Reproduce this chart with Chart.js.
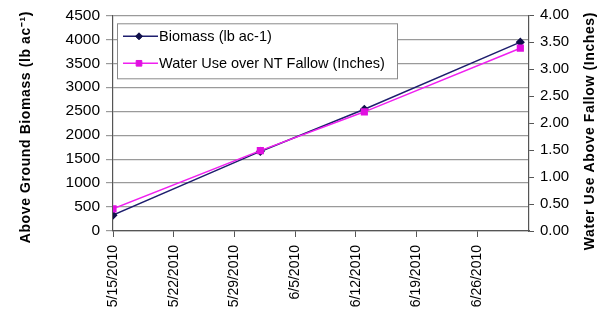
<!DOCTYPE html>
<html>
<head>
<meta charset="utf-8">
<script src="https://cdn.jsdelivr.net/npm/chart.js@4/dist/chart.umd.min.js"></script>
<style>
  html, body { margin: 0; padding: 0; background: #fff; }
  #wrap { width: 602px; height: 323px; }
</style>
</head>
<body>
<div id="wrap"><canvas id="chart" width="602" height="323"></canvas></div>
<script>
// Sampling dates and measurements
const sampleDates = ['2010-05-15', '2010-06-01', '2010-06-13', '2010-07-01'];
const biomass = [330, 1660, 2540, 3940];          // lb ac-1
const waterUse = [0.41, 1.49, 2.21, 3.39];        // inches over NT fallow

const seriesLabels = ['Biomass (lb ac-1)', 'Water Use over NT Fallow (Inches)'];
const leftTitle = 'Above Ground Biomass (lb ac\u207B\u00B9)';
const rightTitle = 'Water Use Above Fallow (Inches)';

// x axis runs in days from the first sample, ticks weekly
const startDate = new Date(2010, 4, 15);
const axisDays = 48;
const dayMs = 86400000;

function toDay(str) {
    const [y, m, d] = str.split('-').map(Number);
    return Math.round((new Date(y, m - 1, d) - startDate) / dayMs);
}

function dayLabel(v) {
    const d = new Date(startDate.getTime() + v * dayMs);
    return `${d.getMonth() + 1}/${d.getDate()}/${d.getFullYear()}`;
}

const FONT = 'Liberation Sans, Arial, sans-serif';
const GRID = '#9a9a9a';
const AXIS = '#555';

function drawVerticalTitle(ctx, text, x, y) {
    ctx.save();
    ctx.font = `bold 14px ${FONT}`;
    ctx.letterSpacing = '0.6px';
    ctx.fillStyle = '#000';
    ctx.textAlign = 'center';
    ctx.textBaseline = 'middle';
    ctx.translate(x, y);
    ctx.rotate(-Math.PI / 2);
    ctx.fillText(text, 0, 0);
    ctx.restore();
}

// Axis titles (both read bottom to top) and the legend box inside the plot
const extrasPlugin = {
    id: 'extras',
    afterDraw(chart) {
        const ctx = chart.ctx;
        const area = chart.chartArea;
        const midY = (area.top + area.bottom) / 2;

        drawVerticalTitle(ctx, leftTitle, 26, midY + 4);
        drawVerticalTitle(ctx, rightTitle, area.right + 61, midY + 8);

        ctx.save();
        const bx = area.left + 4, by = area.top + 8, bw = 280, bh = 55;
        ctx.fillStyle = '#fff';
        ctx.fillRect(bx, by, bw, bh);
        ctx.strokeStyle = '#8a8a8a';
        ctx.lineWidth = 1;
        ctx.strokeRect(bx + 0.5, by + 0.5, bw, bh);

        chart.data.datasets.forEach((ds, i) => {
            const y = by + 13 + i * 27;
            ctx.strokeStyle = ds.borderColor;
            ctx.lineWidth = 1.5;
            ctx.beginPath();
            ctx.moveTo(bx + 6, y);
            ctx.lineTo(bx + 41, y);
            ctx.stroke();
            ctx.fillStyle = ds.pointBackgroundColor;
            ctx.strokeStyle = ds.pointBorderColor;
            ctx.lineWidth = 1;
            Chart.helpers.drawPoint(ctx, {
                pointStyle: ds.pointStyle,
                radius: ds.pointRadius,
                borderWidth: 1
            }, bx + 22, y);
            ctx.fillStyle = '#000';
            ctx.font = `14.5px ${FONT}`;
            ctx.textAlign = 'left';
            ctx.textBaseline = 'middle';
            ctx.fillText(ds.label, bx + 42, y + 1);
        });
        ctx.restore();
    }
};

new Chart(document.getElementById('chart'), {
    type: 'line',
    data: {
        datasets: [{
            label: seriesLabels[0],
            data: sampleDates.map((d, i) => ({ x: toDay(d), y: biomass[i] })),
            yAxisID: 'y',
            borderColor: '#1e1e6e',
            backgroundColor: '#1e1e6e',
            pointBackgroundColor: '#10104a',
            pointBorderColor: '#10104a',
            pointStyle: 'rectRot',
            pointRadius: 3.5,
            borderWidth: 1.5,
            tension: 0,
            order: 1
        }, {
            label: seriesLabels[1],
            data: sampleDates.map((d, i) => ({ x: toDay(d), y: waterUse[i] })),
            yAxisID: 'y1',
            borderColor: '#f020f0',
            backgroundColor: '#f020f0',
            pointBackgroundColor: '#e010e0',
            pointBorderColor: '#e010e0',
            pointStyle: 'rect',
            pointRadius: 4,
            borderWidth: 1.5,
            tension: 0,
            order: 0
        }]
    },
    options: {
        responsive: false,
        animation: false,
        layout: { padding: { left: 0, top: 15, right: 0, bottom: 0 } },
        plugins: {
            legend: { display: false },
            tooltip: { enabled: false }
        },
        scales: {
            x: {
                type: 'linear',
                min: 0,
                max: axisDays,
                afterFit(scale) { scale.height = 92; },
                ticks: {
                    stepSize: 7,
                    includeBounds: false,
                    autoSkip: false,
                    minRotation: 90,
                    maxRotation: 90,
                    padding: 8,
                    color: '#000',
                    font: { family: FONT, size: 14 },
                    callback: v => dayLabel(v)
                },
                grid: { drawOnChartArea: false, color: AXIS, tickLength: 6 },
                border: { color: AXIS, width: 1.2 }
            },
            y: {
                position: 'left',
                min: 0,
                max: 4500,
                afterFit(scale) { scale.width = 113; },
                ticks: {
                    stepSize: 500,
                    padding: 6,
                    color: '#000',
                    font: { family: FONT, size: 15.5 },
                    callback: v => String(v)
                },
                grid: { color: GRID, lineWidth: 1.2, tickLength: 7 },
                border: { color: AXIS, width: 1.2 }
            },
            y1: {
                position: 'right',
                min: 0,
                max: 4,
                afterFit(scale) { scale.width = 73; },
                ticks: {
                    stepSize: 0.5,
                    padding: 6,
                    color: '#000',
                    font: { family: FONT, size: 15 },
                    callback: v => v.toFixed(2)
                },
                grid: { drawOnChartArea: false, color: AXIS, tickLength: 5 },
                border: { color: AXIS, width: 1.2 }
            }
        }
    },
    plugins: [extrasPlugin]
});
</script>
</body>
</html>
